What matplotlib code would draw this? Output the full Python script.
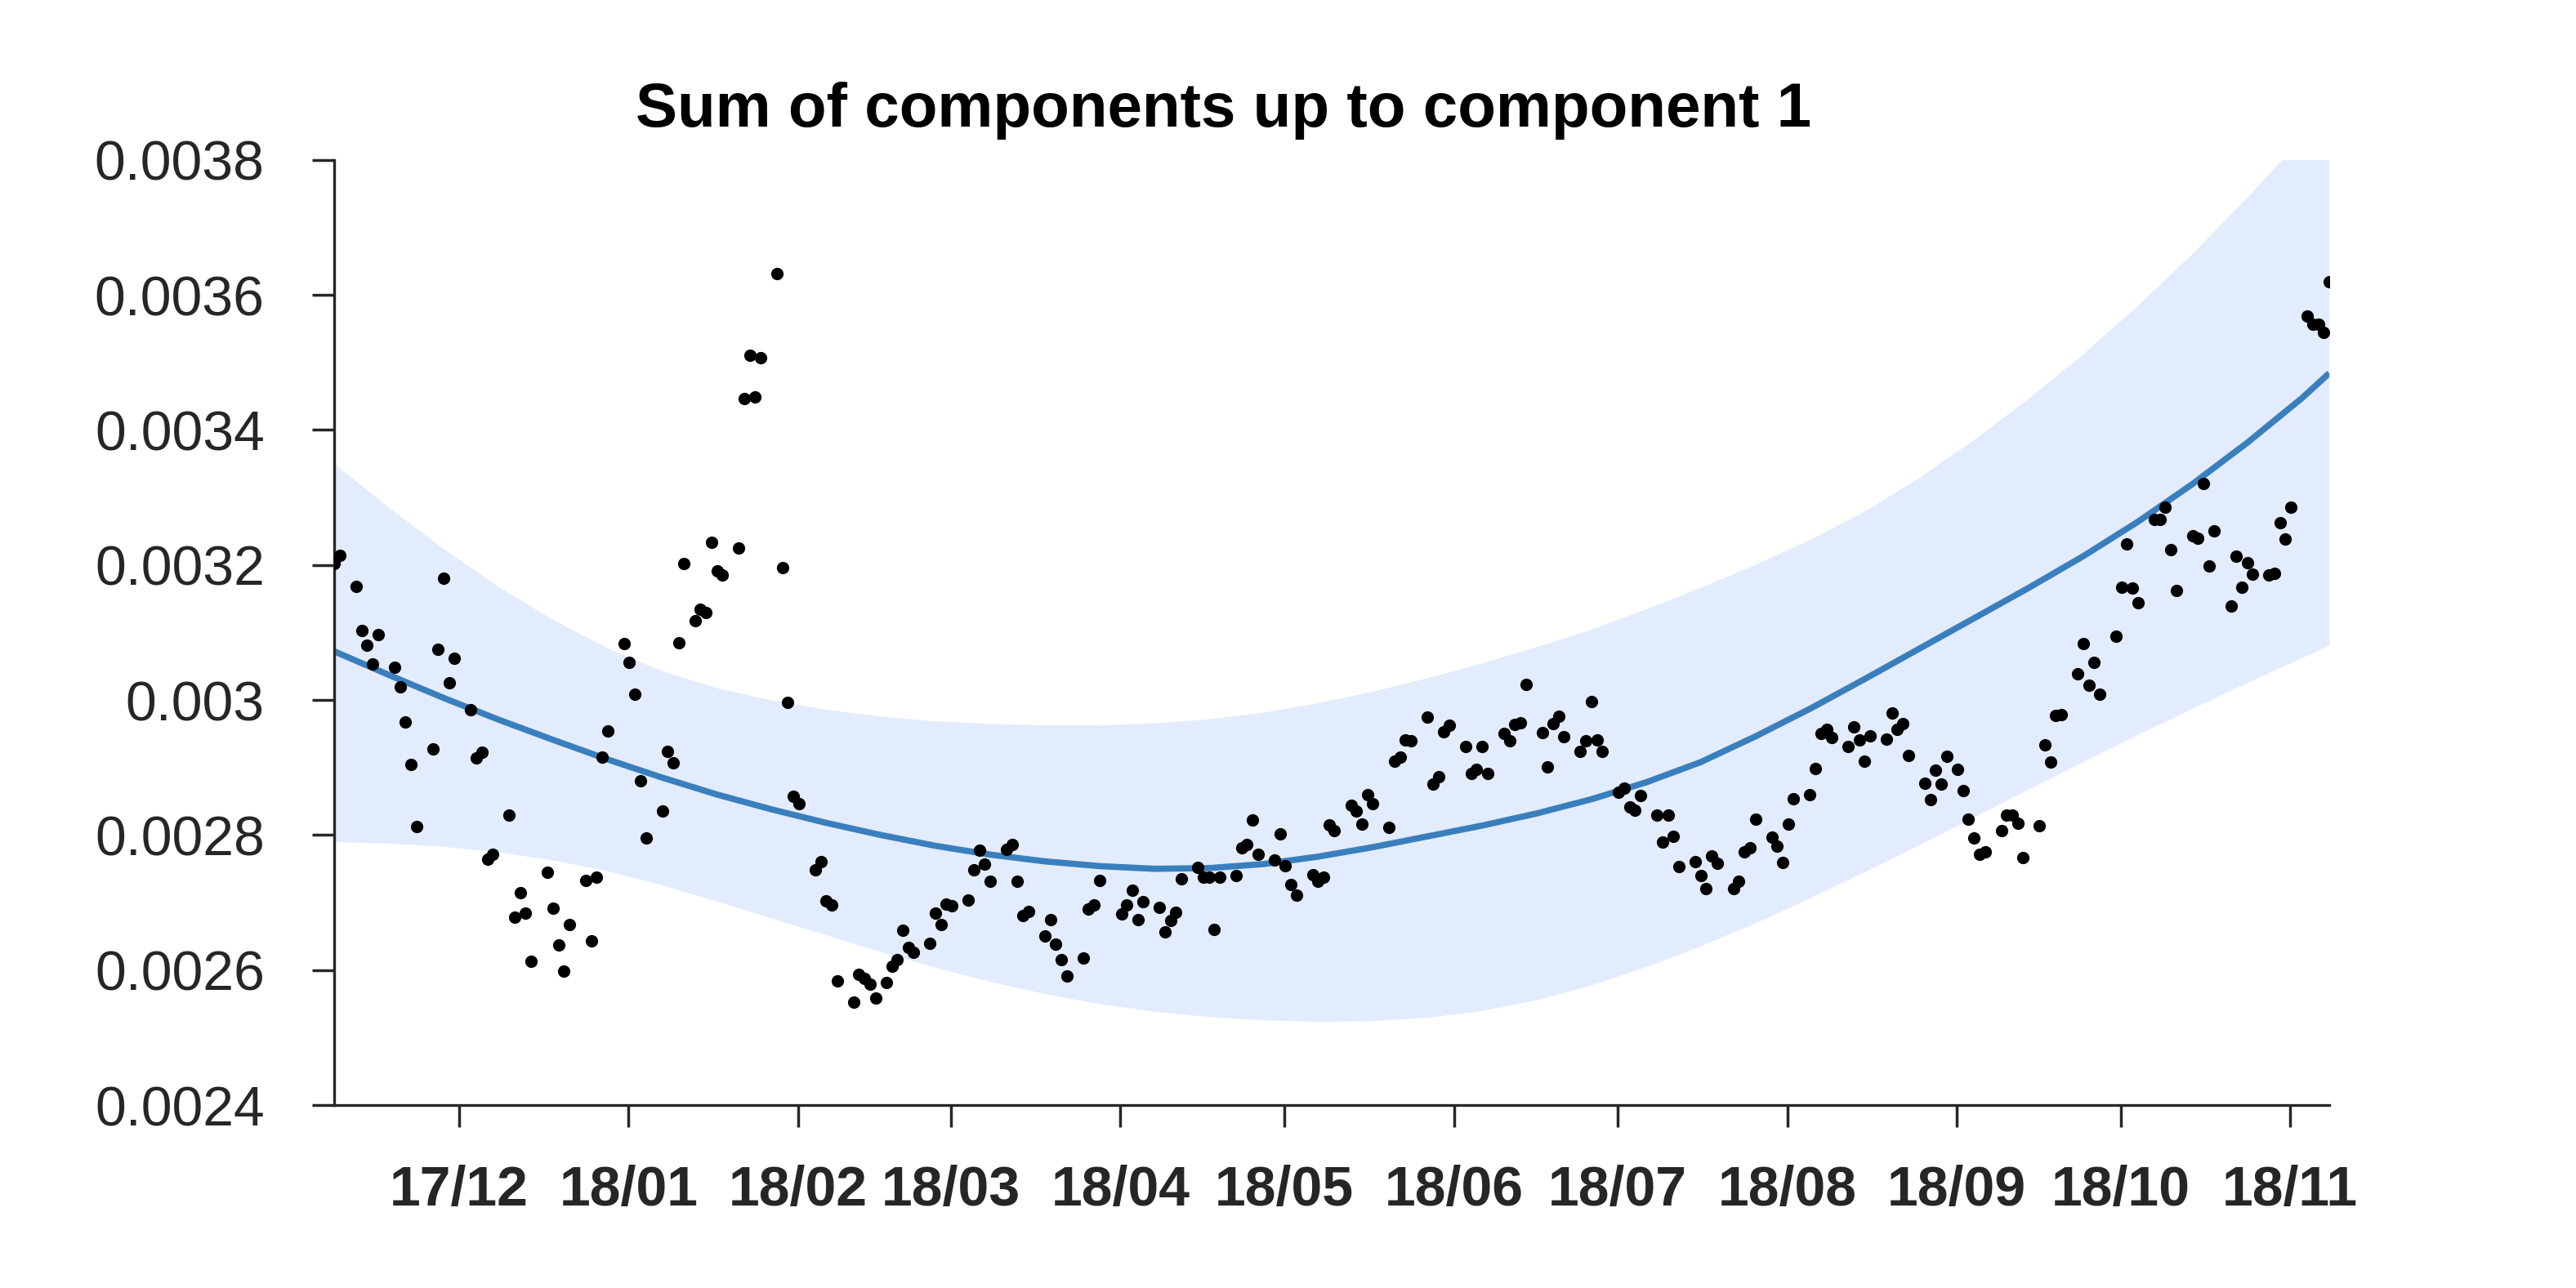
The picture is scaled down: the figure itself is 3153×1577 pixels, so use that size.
import numpy as np
import pandas as pd
import matplotlib
matplotlib.use("Agg")
import matplotlib.pyplot as plt
import matplotlib.dates as mdates
from matplotlib.ticker import FixedLocator, FuncFormatter

plt.rcParams['font.family'] = ['Liberation Sans', 'DejaVu Sans']

start = pd.Timestamp("2017-11-09")

# observed points: day offset from start, value in units of 1e-3
obs_day = [0, 1, 4, 5, 6, 7, 8, 11, 12, 13, 14, 15, 18, 19, 20, 21, 22,
           25, 26, 27, 28, 29, 32, 33, 34, 35, 36, 39, 40, 41, 42, 43,
           46, 47, 48, 49, 50, 53, 54, 55, 56, 57, 60, 61, 62, 63, 64,
           66, 67, 68, 69, 70, 71, 74, 75, 76, 77, 78, 81, 82, 83, 84, 85,
           88, 89, 90, 91, 92, 95, 96, 97, 98, 99, 101, 102, 103, 104, 105, 106,
           109, 110, 111, 112, 113, 116, 117, 118, 119, 120, 123, 124, 125, 126, 127,
           130, 131, 132, 133, 134, 137, 138, 139, 140, 144, 145, 146, 147, 148,
           151, 152, 153, 154, 155, 158, 159, 160, 161, 162, 165, 166, 167, 168, 169,
           172, 173, 174, 175, 176, 179, 180, 181, 182, 183, 186, 187, 188, 189, 190,
           193, 194, 195, 196, 197, 200, 201, 202, 203, 204, 207, 208, 209, 210, 211,
           214, 215, 216, 217, 218, 221, 222, 223, 224, 225, 228, 229, 230, 231, 232,
           235, 236, 237, 238, 239, 242, 243, 244, 245, 246, 249, 250, 251, 252, 253,
           256, 257, 258, 259, 260, 263, 264, 265, 266, 267, 270, 271, 272, 273, 274,
           277, 278, 279, 280, 281, 284, 285, 286, 287, 288, 291, 292, 293, 294, 295,
           297, 298, 299, 300, 301, 302, 305, 306, 307, 308, 309, 312, 313, 314, 315, 316,
           319, 320, 321, 322, 323, 326, 327, 328, 329, 330, 333, 334, 335, 336, 337,
           340, 341, 342, 343, 344, 347, 348, 349, 350, 351, 354, 355, 356, 357, 358,
           361, 362, 363, 364, 365]

obs_val = [3.202, 3.214, 3.168, 3.103, 3.081, 3.053, 3.097, 3.048, 3.019, 2.968, 2.904, 2.813,
           2.928, 3.075, 3.180, 3.026, 3.062,
           2.985, 2.914, 2.923, 2.764, 2.772,
           2.829, 2.678, 2.715, 2.684, 2.613,
           2.745, 2.692, 2.637, 2.598, 2.667,
           2.733, 2.643, 2.738, 2.915, 2.954,
           3.083, 3.056, 3.009, 2.880, 2.796,
           2.836, 2.924, 2.907, 3.085, 3.202,
           3.117, 3.134, 3.130, 3.233, 3.191, 3.185,
           3.225, 3.446, 3.510, 3.449, 3.507,
           3.632, 3.196, 2.996, 2.857, 2.847,
           2.748, 2.760, 2.702, 2.697, 2.584,
           2.552, 2.594, 2.588, 2.579, 2.559,
           2.582, 2.606, 2.616, 2.659, 2.634, 2.626,
           2.639, 2.684, 2.667, 2.698, 2.695,
           2.704, 2.749, 2.778, 2.757, 2.732,
           2.779, 2.786, 2.731, 2.681, 2.687,
           2.651, 2.675, 2.638, 2.616, 2.591,
           2.618, 2.691, 2.697, 2.733,
           2.683, 2.697, 2.718, 2.675, 2.701,
           2.693, 2.657, 2.674, 2.686, 2.735,
           2.752, 2.738, 2.738, 2.660, 2.738,
           2.740, 2.781, 2.786, 2.822, 2.772,
           2.763, 2.802, 2.755, 2.727, 2.711,
           2.741, 2.732, 2.737, 2.815, 2.807,
           2.844, 2.836, 2.816, 2.860, 2.847,
           2.811, 2.909, 2.915, 2.941, 2.940,
           2.975, 2.876, 2.886, 2.953, 2.963,
           2.931, 2.891, 2.897, 2.931, 2.891,
           2.950, 2.940, 2.964, 2.966, 3.023,
           2.952, 2.901, 2.965, 2.976, 2.946,
           2.924, 2.940, 2.998, 2.941, 2.924,
           2.863, 2.870, 2.842, 2.837, 2.859,
           2.829, 2.789, 2.830, 2.798, 2.753,
           2.760, 2.740, 2.721, 2.769, 2.758,
           2.721, 2.732, 2.775, 2.781, 2.823,
           2.797, 2.783, 2.759, 2.816, 2.854,
           2.860, 2.898, 2.950, 2.956, 2.945,
           2.931, 2.960, 2.941, 2.909, 2.947,
           2.942, 2.981, 2.956, 2.965, 2.918,
           2.877, 2.853, 2.896, 2.875, 2.917,
           2.897, 2.866, 2.824, 2.796, 2.772, 2.775,
           2.806, 2.829, 2.829, 2.817, 2.767,
           2.814, 2.934, 2.908, 2.977, 2.978,
           3.039, 3.083, 3.022, 3.056, 3.009,
           3.095, 3.167, 3.231, 3.166, 3.144,
           3.268, 3.267, 3.285, 3.223, 3.162,
           3.243, 3.239, 3.321, 3.199, 3.251,
           3.139, 3.213, 3.167, 3.203, 3.186,
           3.185, 3.188, 3.262, 3.238, 3.285,
           3.569, 3.557, 3.557, 3.544, 3.619]

# fitted component and its band, read every 10 days (units of 1e-3)
fit_day = [0, 10, 20, 30, 40, 50, 60, 70, 80, 90, 100, 110, 120, 130, 140, 150,
           160, 170, 180, 190, 200, 210, 220, 230, 240, 250, 260, 270, 280, 290,
           300, 310, 320, 330, 340, 350, 360, 365]
fit_mid = [3.072, 3.037, 3.003, 2.971, 2.941, 2.912, 2.885, 2.860, 2.838, 2.818,
           2.800, 2.784, 2.771, 2.761, 2.754, 2.750, 2.751, 2.757, 2.768, 2.782,
           2.798, 2.814, 2.832, 2.853, 2.878, 2.908, 2.946, 2.987, 3.031, 3.076,
           3.121, 3.166, 3.213, 3.264, 3.320, 3.381, 3.447, 3.484]
fit_hi = [3.350, 3.285, 3.224, 3.168, 3.119, 3.077, 3.043, 3.018, 3.000, 2.986,
          2.976, 2.969, 2.965, 2.963, 2.963, 2.966, 2.972, 2.982, 2.996, 3.013,
          3.033, 3.055, 3.079, 3.105, 3.135, 3.167, 3.201, 3.238, 3.280, 3.330,
          3.386, 3.447, 3.513, 3.585, 3.662, 3.745, 3.833, 3.878]
fit_lo = [2.790, 2.788, 2.783, 2.775, 2.763, 2.747, 2.726, 2.702, 2.677, 2.652,
          2.627, 2.604, 2.583, 2.565, 2.550, 2.539, 2.531, 2.526, 2.524, 2.525,
          2.530, 2.540, 2.556, 2.578, 2.605, 2.636, 2.670, 2.707, 2.746, 2.786,
          2.827, 2.868, 2.909, 2.949, 2.988, 3.026, 3.063, 3.081]

obs_dates = start + pd.to_timedelta(obs_day, unit="D")
fit_dates = start + pd.to_timedelta(fit_day, unit="D")

fig = plt.figure(figsize=(31.53, 15.77), dpi=100)
ax = fig.add_axes([0.1298, 0.1420, 0.7744, 0.7339])

ax.fill_between(fit_dates, np.array(fit_lo) * 1e-3, np.array(fit_hi) * 1e-3,
                color="#e3ecfd", linewidth=0, zorder=1)
ax.plot(fit_dates, np.array(fit_mid) * 1e-3, color="#3a7fbd", linewidth=5.5,
        solid_capstyle="butt", zorder=2)
ax.scatter(obs_dates, np.array(obs_val) * 1e-3, s=120, color="black", linewidths=0, zorder=3)

ax.set_xlim(start, start + pd.Timedelta(days=365))
ax.set_ylim(0.0024, 0.0038)

# month ticks sit a little after midnight in the source chart
months = pd.date_range("2017-12-01", "2018-11-01", freq="MS") + pd.Timedelta(hours=20)
ax.set_xticks(months)
ax.xaxis.set_major_formatter(mdates.DateFormatter("%y/%m"))
ax.yaxis.set_major_locator(FixedLocator(np.arange(24, 39, 2) * 1e-4))
ax.yaxis.set_major_formatter(FuncFormatter(lambda v, p: "{:g}".format(round(v, 5))))

for s in ["top", "right"]:
    ax.spines[s].set_visible(False)
for s in ["left", "bottom"]:
    ax.spines[s].set_linewidth(2.4)
    ax.spines[s].set_color("#262626")

ax.tick_params(axis="both", direction="out", length=19.5, width=2.5, color="#262626",
               labelcolor="#262626", labelsize=49)
ax.tick_params(axis="x", pad=33)
ax.tick_params(axis="y", pad=42)
for lab in ax.get_xticklabels():
    lab.set_fontweight("bold")

fig.text(0.4751, 0.9017, "Sum of components up to component 1", ha="center",
         va="baseline", fontsize=55, fontweight="bold", color="black")

fig.savefig("out.png", dpi=100, facecolor="white")
